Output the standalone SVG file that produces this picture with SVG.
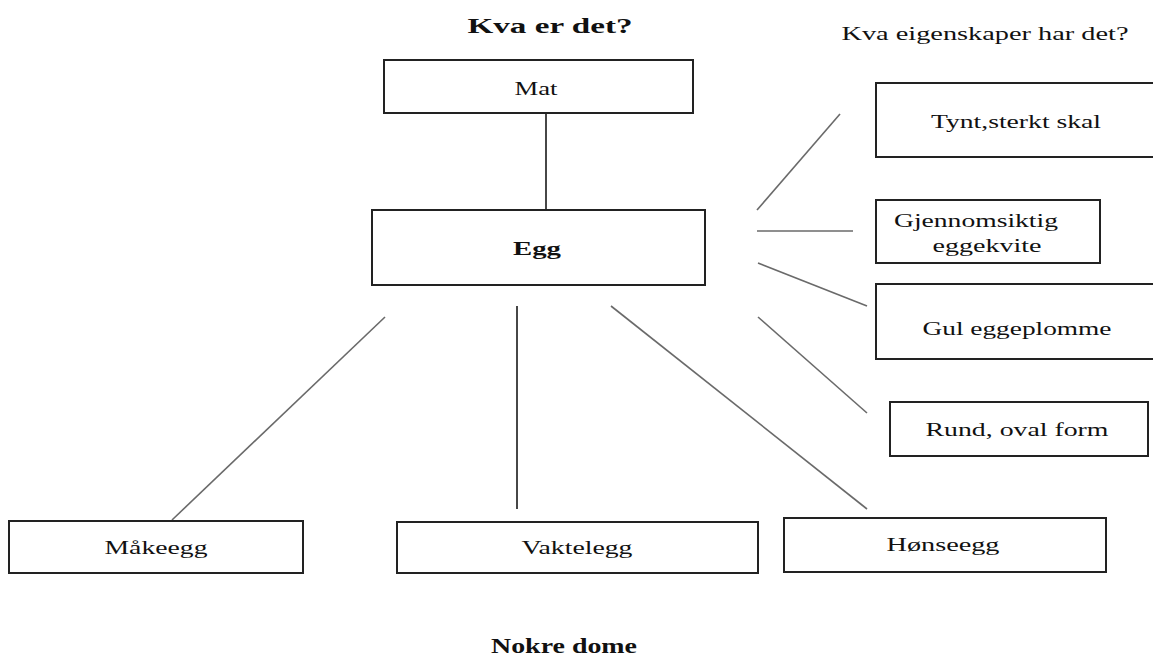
<svg xmlns="http://www.w3.org/2000/svg" width="1153" height="659" viewBox="0 0 1153 659">
<style>
.box{fill:#fff;stroke:#222;stroke-width:2}
.t{font-family:"Liberation Serif","Times New Roman",serif;font-size:19px;fill:#111;text-anchor:middle}
.b{font-weight:bold}
.c{stroke:#6a6a6a;stroke-width:1.6;fill:none}
.v{stroke:#333;stroke-width:1.8}
</style>
<rect width="1153" height="659" fill="#fff"/>
<text class="t b" x="550" y="33" style="font-size:21px" textLength="165" lengthAdjust="spacingAndGlyphs">Kva er det?</text>
<text class="t" x="985" y="40" style="font-size:18px" textLength="287" lengthAdjust="spacingAndGlyphs">Kva eigenskaper har det?</text>
<text class="t b" x="564" y="653" style="font-size:21px" textLength="146" lengthAdjust="spacingAndGlyphs">Nokre dome</text>
<g id="connectors">
<line class="c v" x1="546" y1="113" x2="546" y2="210"/>
<line class="c" x1="385" y1="317" x2="172" y2="520"/>
<line class="c v" x1="517" y1="306" x2="517" y2="509"/>
<line class="c" x1="611" y1="306" x2="867" y2="509"/>
<line class="c" x1="757" y1="210" x2="840" y2="114"/>
<line class="c" x1="757" y1="231" x2="853" y2="231"/>
<line class="c" x1="758" y1="263" x2="867" y2="306"/>
<line class="c" x1="758" y1="317" x2="867" y2="413"/>
</g>
<g id="mat"><rect class="box" x="384" y="60" width="309" height="53"/><text class="t" x="536" y="95" textLength="43" lengthAdjust="spacingAndGlyphs">Mat</text></g>
<g id="egg"><rect class="box" x="372" y="210" width="333" height="75"/><text class="t b" x="537" y="255" textLength="48" lengthAdjust="spacingAndGlyphs">Egg</text></g>
<g id="tynt"><rect class="box" x="876" y="83" width="290" height="74"/><text class="t" x="1016" y="128" textLength="170" lengthAdjust="spacingAndGlyphs">Tynt,sterkt skal</text></g>
<g id="gjennomsiktig"><rect class="box" x="876" y="200" width="224" height="63"/><text class="t" x="976" y="227" textLength="164" lengthAdjust="spacingAndGlyphs">Gjennomsiktig</text><text class="t" x="987" y="252" textLength="109" lengthAdjust="spacingAndGlyphs">eggekvite</text></g>
<g id="gul"><rect class="box" x="876" y="284" width="290" height="75"/><text class="t" x="1017" y="335" textLength="189" lengthAdjust="spacingAndGlyphs">Gul eggeplomme</text></g>
<g id="rund"><rect class="box" x="890" y="402" width="258" height="54"/><text class="t" x="1017" y="436" textLength="183" lengthAdjust="spacingAndGlyphs">Rund, oval form</text></g>
<g id="maakeegg"><rect class="box" x="9" y="521" width="294" height="52"/><text class="t" x="156" y="554" textLength="103" lengthAdjust="spacingAndGlyphs">Måkeegg</text></g>
<g id="vaktelegg"><rect class="box" x="397" y="522" width="361" height="51"/><text class="t" x="577" y="554" textLength="111" lengthAdjust="spacingAndGlyphs">Vaktelegg</text></g>
<g id="honseegg"><rect class="box" x="784" y="518" width="322" height="54"/><text class="t" x="943" y="551" textLength="113" lengthAdjust="spacingAndGlyphs">Hønseegg</text></g>
</svg>
